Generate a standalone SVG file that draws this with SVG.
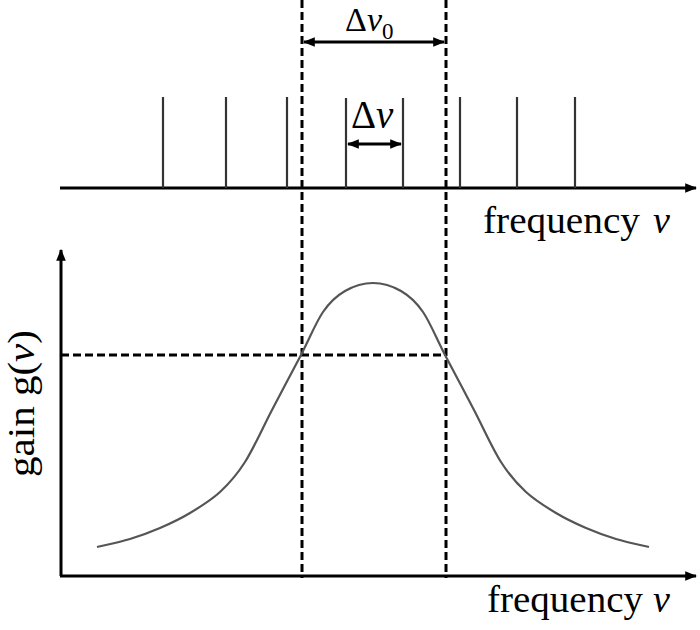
<svg xmlns="http://www.w3.org/2000/svg" width="700" height="630" viewBox="0 0 700 630">
<style>
.axis{stroke:#000;stroke-width:3;fill:none}
.tooth{stroke:#333;stroke-width:2.2;fill:none}
.dash{stroke:#000;stroke-width:3;fill:none;stroke-dasharray:8 4}
.dim{stroke:#000;stroke-width:3;fill:none}
.curve{stroke:#555;stroke-width:2.2;fill:none}
.lbl{font-family:"Liberation Serif","Times New Roman",serif;fill:#000}
</style>
<defs>
<marker id="ah" viewBox="0 0 10 10" refX="9" refY="5" markerWidth="4" markerHeight="4" orient="auto-start-reverse" markerUnits="strokeWidth">
<path d="M0,1 L10,5 L0,9 Z" fill="#000"/>
</marker>
</defs>
<rect width="700" height="630" fill="#fff"/>
<g id="connectors">
<line class="axis" x1="60" y1="188" x2="696" y2="188" marker-end="url(#ah)"/>
<line class="axis" x1="61" y1="576" x2="61" y2="250" marker-end="url(#ah)"/>
<line class="axis" x1="60" y1="576" x2="696" y2="576" marker-end="url(#ah)"/>
<line class="dash" x1="302" y1="0" x2="302" y2="578"/>
<line class="dash" x1="446" y1="0" x2="446" y2="578"/>
<line class="dash" x1="61" y1="355" x2="446" y2="355"/>
<line class="dim" x1="304" y1="42" x2="444" y2="42" marker-start="url(#ah)" marker-end="url(#ah)"/>
<line class="dim" x1="348" y1="144" x2="401" y2="144" marker-start="url(#ah)" marker-end="url(#ah)"/>
</g>
<g id="modes">
<line class="tooth" x1="163" y1="97" x2="163" y2="188"/>
<line class="tooth" x1="226" y1="97" x2="226" y2="188"/>
<line class="tooth" x1="287" y1="97" x2="287" y2="188"/>
<line class="tooth" x1="346" y1="98" x2="346" y2="188"/>
<line class="tooth" x1="403" y1="98" x2="403" y2="188"/>
<line class="tooth" x1="460" y1="97" x2="460" y2="188"/>
<line class="tooth" x1="517" y1="97" x2="517" y2="188"/>
<line class="tooth" x1="575" y1="97" x2="575" y2="188"/>
</g>
<g id="gain-curve">
<path class="curve" d="M97,547 C102.5,545.7 119.5,542.2 130,539 C140.5,535.8 150,532.3 160,528 C170,523.7 180,519 190,513 C200,507 210.8,500.5 220,492 C229.2,483.5 236.3,475.7 245,462 C253.7,448.3 262.7,427.8 272,410 C281.3,392.2 292.5,371.3 301,355 C309.5,338.7 315.7,322.7 323,312 C330.3,301.3 336.7,295.8 345,291 C353.3,286.2 363.7,283 373,283 C382.3,283 392.7,286.2 401,291 C409.3,295.8 415.7,301.3 423,312 C430.3,322.7 436.5,338.7 445,355 C453.5,371.3 464.7,392.2 474,410 C483.3,427.8 492.3,448.3 501,462 C509.7,475.7 516.8,483.5 526,492 C535.2,500.5 546,507 556,513 C566,519 576,523.7 586,528 C596,532.3 605.5,535.8 616,539 C626.5,542.2 643.5,545.7 649,547"/>
</g>
<g id="labels">
<text class="lbl" x="345" y="31" font-size="34">Δ<tspan font-style="italic">ν</tspan><tspan font-size="23" dy="8">0</tspan></text>
<text class="lbl" x="351" y="128" font-size="39">Δ<tspan font-style="italic">ν</tspan></text>
<text class="lbl" x="483" y="233" font-size="38" textLength="157" lengthAdjust="spacingAndGlyphs">frequency</text>
<text class="lbl" x="653" y="233" font-size="38" font-style="italic">ν</text>
<text class="lbl" x="487" y="612" font-size="38" textLength="156" lengthAdjust="spacingAndGlyphs">frequency</text>
<text class="lbl" x="653" y="612" font-size="38" font-style="italic">ν</text>
<text class="lbl" x="0" y="0" font-size="37" transform="translate(34,477) rotate(-90)" textLength="147" lengthAdjust="spacingAndGlyphs">gain g(<tspan font-style="italic">ν</tspan>)</text>
</g>
</svg>
